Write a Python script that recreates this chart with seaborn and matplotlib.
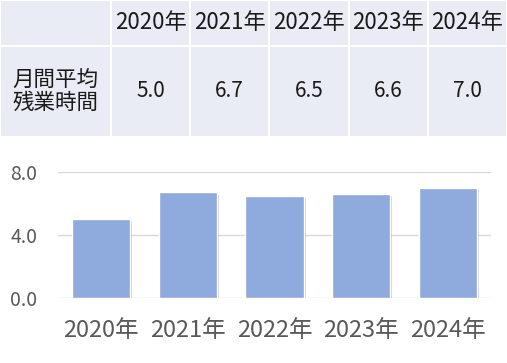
import matplotlib
matplotlib.use("Agg")
import matplotlib.pyplot as plt
import matplotlib.patheffects as pe
import seaborn as sns
import pandas as pd

years = ['2020年', '2021年', '2022年', '2023年', '2024年']
overtime = [5.0, 6.7, 6.5, 6.6, 7.0]
row_label = '月間平均\n残業時間'
yticks = [0.0, 4.0, 8.0]

sns.set_theme(style='white')
plt.rcParams['font.family'] = ['Noto Sans CJK JP', 'DejaVu Sans']

fig = plt.figure(figsize=(5.07, 3.63), dpi=100)

# table on top
ax_t = fig.add_axes([0, 0.6226, 1, 0.3774])
ax_t.axis('off')
cell_text = [[''] + years, [row_label] + ['%.1f' % v for v in overtime]]
first_w = 111 / 507
col_w = [first_w] + [(1 - first_w) / 5] * 5
tbl = ax_t.table(cellText=cell_text, colWidths=col_w, cellLoc='center',
                 bbox=[0, 0, 1, 1])
tbl.auto_set_font_size(False)
for (r, c), cell in tbl.get_celld().items():
    cell.set_facecolor('#e9ebf5')
    cell.set_edgecolor('white')
    cell.set_linewidth(1.5)
    cell.set_height(46 if r == 0 else 91)
    txt = cell.get_text()
    txt.set_color('#1a1a1a')
    if r == 0:
        txt.set_fontsize(16)
    elif c == 0:
        txt.set_fontsize(15.5)
        txt.set_linespacing(1.05)
    else:
        txt.set_fontsize(15)

# bar chart
ax = fig.add_axes([58 / 507, 65 / 363, 433 / 507, 126 / 363])
df = pd.DataFrame({'year': years, 'value': overtime})
sns.barplot(data=df, x='year', y='value', color='#8faadc', saturation=1,
            width=0.67, ax=ax, zorder=3)
for p in ax.patches:
    p.set_path_effects([pe.SimplePatchShadow(offset=(1.5, -1.5), shadow_rgbFace='#7f7f7f', alpha=0.35),
                        pe.Normal()])
ax.set_ylim(0, 8)
ax.set_yticks(yticks)
ax.set_yticklabels(['%.1f' % t for t in yticks])
ax.yaxis.grid(True, color='#d9d9d9', linewidth=1)
ax.set_axisbelow(True)
sns.despine(ax=ax, left=True, bottom=True)
ax.set_xlabel('')
ax.set_ylabel('')
ax.tick_params(axis='x', length=0, pad=15, labelsize=17, labelcolor='#595959')
ax.tick_params(axis='y', length=0, pad=15, labelsize=14, labelcolor='#595959')

fig.savefig('out.png', dpi=100)
